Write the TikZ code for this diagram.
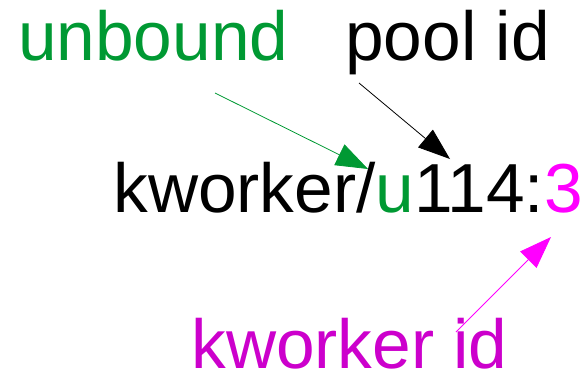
\documentclass[tikz,border=0pt]{standalone}
\usepackage{fontspec}
\setmainfont{Liberation Sans}
\usetikzlibrary{arrows.meta}
\definecolor{ubgreen}{RGB}{0,153,51}
\definecolor{idmag}{RGB}{255,0,255}
\definecolor{labmag}{RGB}{204,0,204}
\begin{document}
\begin{tikzpicture}[x=1pt,y=-1pt,
  word/.style={anchor=base west,inner sep=0pt,outer sep=0pt,
    font=\fontsize{69.4}{80}\selectfont},
  pointer/.style={line width=0.8pt,
    -{Triangle[length=32pt,width=23pt]}}]
  \useasboundingbox (0,0) rectangle (585,373);
  % labels
  \node[word,text=ubgreen] (unbound) at (18.1,60) {unbound};
  \node[word] (pool) at (345.4,60) {pool id};
  \node[word] (name) at (113.4,212) {kworker/\textcolor{ubgreen}{u}114:\textcolor{idmag}{3}};
  \node[word,text=labmag] (kid) at (191.4,368) {kworker id};
  % arrow end points
  \coordinate (gs) at (215,93);
  \coordinate (gt) at (368,169);
  \coordinate (bs) at (359,83);
  \coordinate (bt) at (450,159);
  \coordinate (ms) at (456,332);
  \coordinate (mt) at (551,237);
  % pointers
  \draw[pointer,ubgreen] (gs) -- (gt);
  \draw[pointer,black] (bs) -- (bt);
  \draw[pointer,idmag] (ms) -- (mt);
\end{tikzpicture}
\end{document}
